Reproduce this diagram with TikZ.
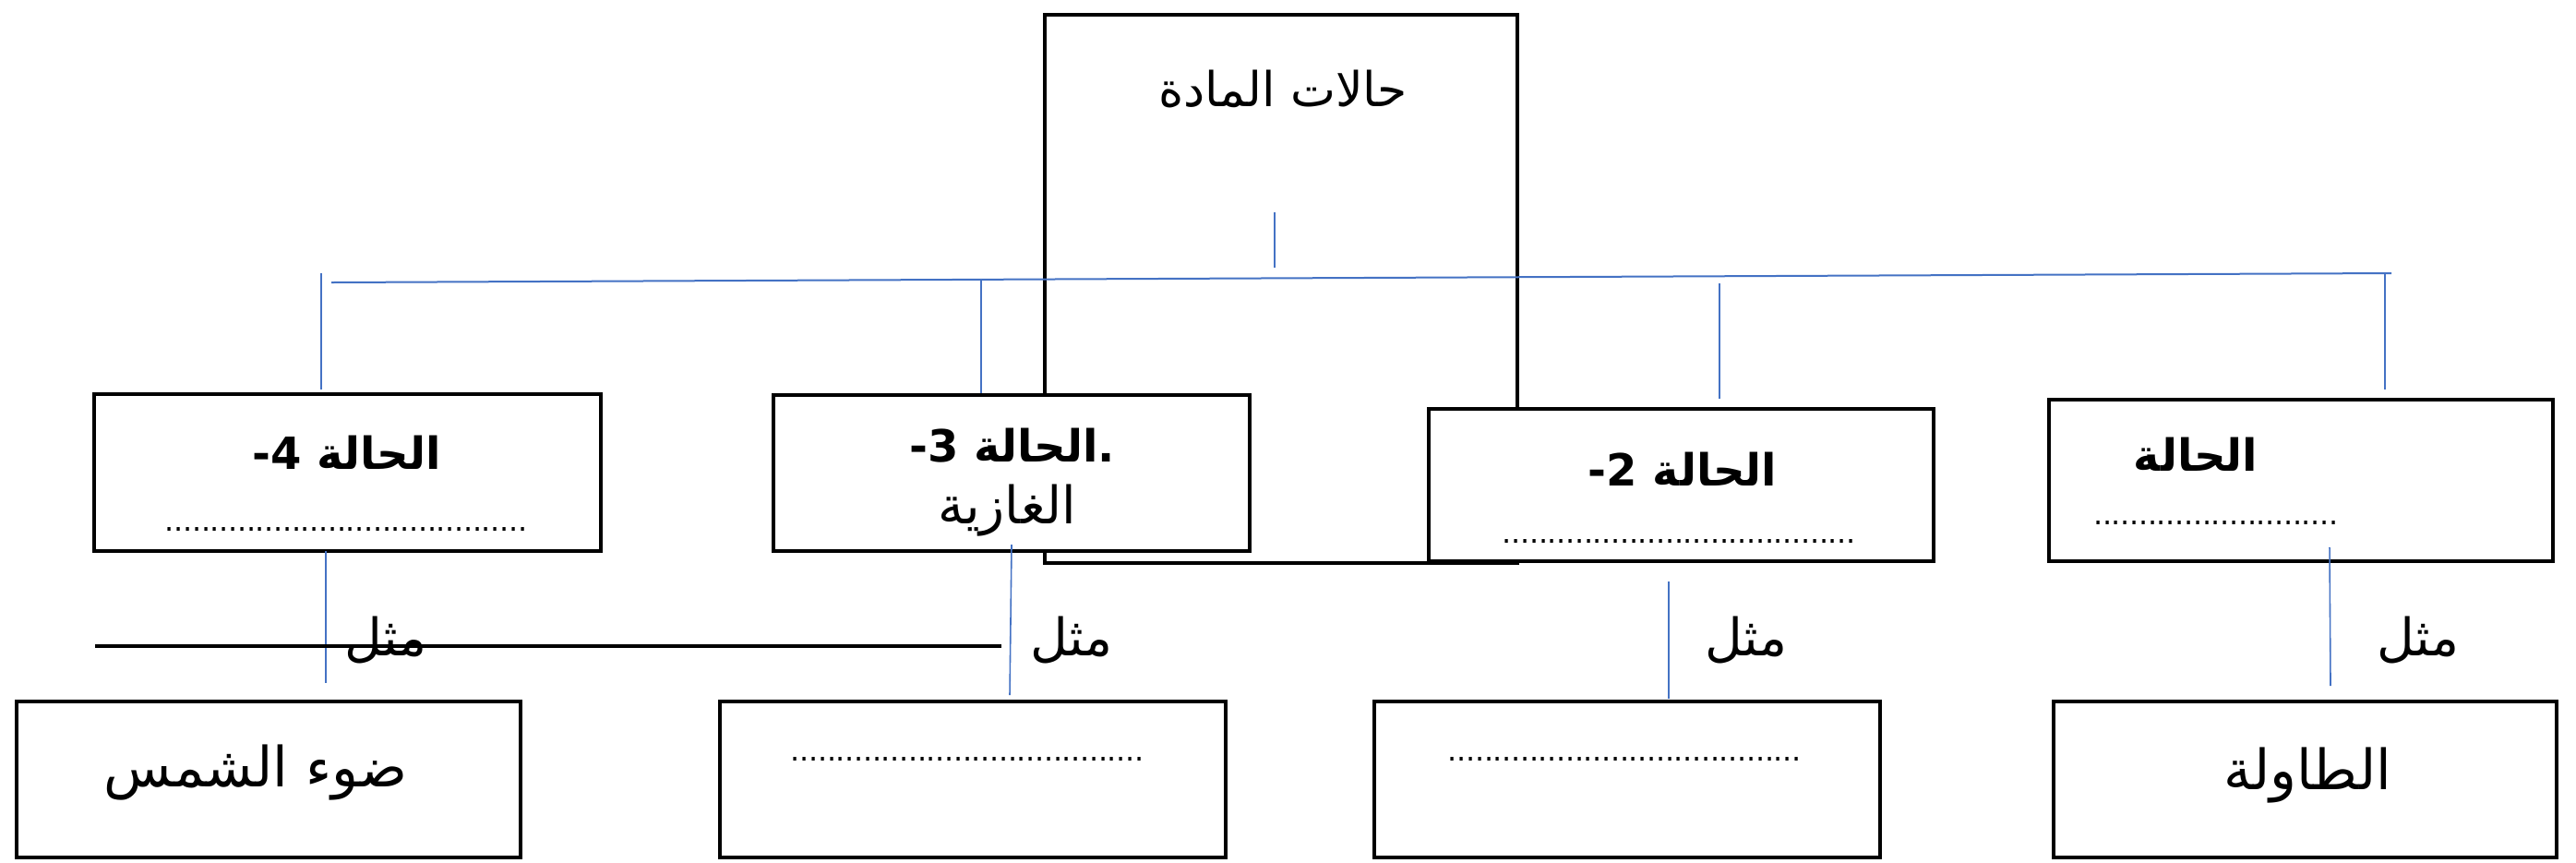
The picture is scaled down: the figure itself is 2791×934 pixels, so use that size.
\documentclass[tikz,border=0pt]{standalone}
\usepackage{fontspec}
\setmainfont{DejaVu Sans}
\newfontfamily\arabicfont[Script=Arabic]{DejaVu Sans}
\TeXXeTstate=1
\definecolor{lineblue}{HTML}{4472C4}
\newcommand\dotrow[1]{\hbox to #1{\leaders\hbox to 2.45pt{\hss.\hss}\hfill}}
\begin{document}
\begin{tikzpicture}[x=0.25pt,y=-0.25pt,
  box/.style={draw=black,line width=0.9pt,fill=white,inner sep=0pt,rectangle},
  bluelink/.style={draw=lineblue,line width=0.5pt},
  bluethin/.style={draw=lineblue,line width=0.4pt},
  txt/.style={inner sep=0pt,font=\arabicfont\fontsize{13}{15}\selectfont},
  ttl/.style={inner sep=0pt,font=\arabicfont\bfseries\fontsize{12}{14}\selectfont},
  mithl/.style={inner sep=0pt,font=\arabicfont\fontsize{14}{16}\selectfont},
  big/.style={inner sep=0pt,font=\arabicfont\fontsize{15}{17}\selectfont},
  dots/.style={inner sep=0pt,anchor=base,font=\fontsize{8}{9}\selectfont}]
\fill[white] (0,0) rectangle (2791,934);
\useasboundingbox (0,0) rectangle (2791,934);

% top box
\node[box,minimum width={512*0.25pt},minimum height={594*0.25pt}] (top) at (1388,313) {};
\node[txt] (toptxt) at (1390,96) {\beginR حالات المادة\endR};

% blue tree
\coordinate (tickA) at (1381,230);
\coordinate (tickB) at (1381,290);
\draw[bluelink] (tickA) -- (tickB);
\coordinate (hL) at (359,306);
\coordinate (hR) at (2591,296);
\draw[bluelink] (hL) -- (hR);
\coordinate (v4a) at (348,296); \coordinate (v4b) at (348,422);
\coordinate (v3a) at (1063,303); \coordinate (v3b) at (1063,428);
\coordinate (v2a) at (1863,307); \coordinate (v2b) at (1863,432);
\coordinate (v1a) at (2584,296); \coordinate (v1b) at (2584,422);
\draw[bluelink] (v4a) -- (v4b);
\draw[bluelink] (v3a) -- (v3b);
\draw[bluelink] (v2a) -- (v2b);
\draw[bluelink] (v1a) -- (v1b);

% middle boxes
\node[box,minimum width={549*0.25pt},minimum height={170*0.25pt}] (b4) at (376.5,512) {};
\node[box,minimum width={516*0.25pt},minimum height={169*0.25pt}] (b3) at (1096,512.5) {};
\node[box,minimum width={547*0.25pt},minimum height={165*0.25pt}] (b2) at (1821.5,525.5) {};
\node[box,minimum width={546*0.25pt},minimum height={175*0.25pt}] (b1) at (2493,520.5) {};

\node[ttl] (t4) at (376,490) {4- \beginR الحالة\endR};
\node[dots] (d4) at (375,575) {\dotrow{98pt}};
\node[ttl] (t3) at (1097,483) {3- \beginR الحالة\endR.};
\node[txt,font=\arabicfont\fontsize{14}{16}\selectfont] (t3b) at (1091,553) {\beginR الغازية\endR};
\node[ttl] (t2) at (1823,508) {2- \beginR الحالة\endR};
\node[dots] (d2) at (1822,588) {\dotrow{97pt}};
\node[ttl] (t1) at (2379,492) {\beginR الحالة\endR};
\node[dots] (d1) at (2402.5,568) {\dotrow{67pt}};

% lower blue lines
\coordinate (w4a) at (353,597); \coordinate (w4b) at (353,740);
\coordinate (w3a) at (1096,590); \coordinate (w3b) at (1094,753);
\coordinate (w2a) at (1808,630); \coordinate (w2b) at (1808,757);
\coordinate (w1a) at (2524,593); \coordinate (w1b) at (2525,743);
\draw[bluethin] (w4a) -- (w4b);
\draw[bluethin] (w3a) -- (w3b);
\draw[bluethin] (w2a) -- (w2b);
\draw[bluethin] (w1a) -- (w1b);

% black stray line
\coordinate (kL) at (103,700);
\coordinate (kR) at (1085,700);
\draw[black,line width=0.9pt] (kL) -- (kR);

% mithl labels
\node[mithl] (m4) at (418,693) {\beginR مثل\endR};
\node[mithl] (m3) at (1161,693) {\beginR مثل\endR};
\node[mithl] (m2) at (1892,693) {\beginR مثل\endR};
\node[mithl] (m1) at (2620,693) {\beginR مثل\endR};

% bottom boxes
\node[box,minimum width={546*0.25pt},minimum height={169*0.25pt}] (c4) at (291,844.5) {};
\node[box,minimum width={548*0.25pt},minimum height={169*0.25pt}] (c3) at (1054,844.5) {};
\node[box,minimum width={548*0.25pt},minimum height={169*0.25pt}] (c2) at (1763,844.5) {};
\node[box,minimum width={545*0.25pt},minimum height={169*0.25pt}] (c1) at (2497.5,844.5) {};

\node[big] (e4) at (277,837) {\beginR ضوء الشمس\endR};
\node[dots] (e3) at (1052,824) {\dotrow{97.5pt}};
\node[dots] (e2) at (1763,824) {\dotrow{97pt}};
\node[big] (e1) at (2500,840) {\beginR الطاولة\endR};
\end{tikzpicture}
\end{document}
